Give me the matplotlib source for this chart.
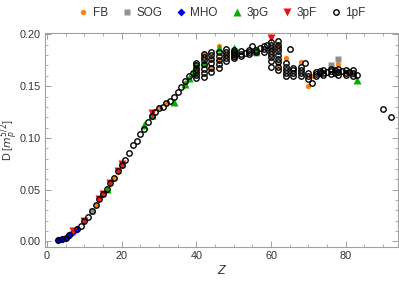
import matplotlib
matplotlib.use("Agg")
import matplotlib.pyplot as plt
from matplotlib.ticker import MultipleLocator

# ---------------- data ----------------
fb_z = [13, 18, 28, 30, 32, 37, 40, 42, 42, 44, 44, 46, 46, 48, 50, 60, 62, 62, 64, 68, 70, 71, 78, 80, 82]
fb_d = [0.035, 0.061, 0.123, 0.130, 0.134, 0.153, 0.165, 0.181, 0.170, 0.176, 0.168, 0.189, 0.175, 0.180, 0.181,
        0.186, 0.190, 0.171, 0.177, 0.173, 0.150, 0.160, 0.171, 0.164, 0.163]

sog_z = [12, 20, 28, 40, 50, 56, 76, 78, 82]
sog_d = [0.029, 0.074, 0.121, 0.166, 0.178, 0.182, 0.170, 0.176, 0.162]

mho_z = [3, 4, 5, 6, 7, 8]
mho_d = [0.0010, 0.0019, 0.0036, 0.0065, 0.0095, 0.0120]

g3_z = [16, 26, 28, 34, 37, 38, 39, 40, 42, 46, 50, 56, 83]
g3_d = [0.051, 0.112, 0.122, 0.135, 0.152, 0.158, 0.163, 0.170, 0.172, 0.187, 0.187, 0.184, 0.156]

f3_z = [7, 10, 14, 15, 17, 19, 20, 28, 60]
f3_d = [0.0097, 0.0197, 0.041, 0.046, 0.056, 0.068, 0.075, 0.124, 0.197]

f1_z = [3, 4, 5, 6, 8, 9, 10, 11, 12, 13, 14, 15, 16, 17, 18, 19, 20, 21, 22,
        23, 24, 25, 26, 27, 28, 29, 30, 31, 32, 33, 34, 35, 36, 37, 38, 39,
        40, 40, 40, 40, 40, 40,
        42, 42, 42, 42, 42, 42, 42,
        44, 44, 44, 44, 44, 44,
        46, 46, 46, 46, 46,
        48, 48, 48, 48, 48,
        50, 50, 50, 50, 50,
        52, 52, 52, 53, 54, 54, 54, 55, 56, 56, 57, 58, 58, 58, 59,
        60, 60, 60, 60, 60, 60, 60, 60,
        62, 62, 62, 62, 62, 62, 62, 62, 62,
        64, 64, 64, 64, 64, 65,
        66, 66, 66, 66, 68, 68, 68, 68, 69,
        70, 70, 70, 71, 72, 72, 72, 73, 73, 74, 74, 74, 75,
        76, 76, 76, 77, 77, 78, 78, 78, 79, 80, 80, 80, 81, 82, 82, 82, 83,
        90, 92]
f1_d = [0.0010, 0.0019, 0.0036, 0.0065, 0.0120, 0.0150, 0.0197, 0.024, 0.029, 0.035, 0.041, 0.046, 0.051, 0.056,
        0.061, 0.068, 0.074, 0.079, 0.085,
        0.093, 0.097, 0.104, 0.109, 0.115, 0.121, 0.125, 0.129, 0.130, 0.134, 0.136, 0.140, 0.144, 0.149, 0.155,
        0.160, 0.163,
        0.158, 0.161, 0.164, 0.167, 0.170, 0.172,
        0.159, 0.163, 0.167, 0.171, 0.175, 0.178, 0.181,
        0.164, 0.168, 0.172, 0.176, 0.180, 0.183,
        0.168, 0.171, 0.175, 0.179, 0.183,
        0.174, 0.177, 0.180, 0.183, 0.186,
        0.177, 0.179, 0.181, 0.183, 0.185,
        0.179, 0.181, 0.184, 0.182, 0.181, 0.183, 0.185, 0.189, 0.183, 0.185, 0.187, 0.183, 0.186, 0.189, 0.190,
        0.169, 0.174, 0.178, 0.181, 0.184, 0.187, 0.190, 0.193,
        0.166, 0.169, 0.173, 0.176, 0.180, 0.184, 0.187, 0.190, 0.194,
        0.160, 0.163, 0.166, 0.169, 0.172, 0.186,
        0.160, 0.163, 0.166, 0.168, 0.160, 0.163, 0.166, 0.169, 0.172,
        0.157, 0.160, 0.163, 0.153, 0.160, 0.162, 0.164, 0.163, 0.165, 0.161, 0.163, 0.166, 0.164,
        0.162, 0.165, 0.167, 0.163, 0.166, 0.161, 0.164, 0.167, 0.165, 0.161, 0.163, 0.166, 0.164, 0.160, 0.163,
        0.166, 0.161,
        0.128, 0.120]

labels = ["FB", "SOG", "MHO", "3pG", "3pF", "1pF"]

# ---------------- figure ----------------
plt.rcParams['font.family'] = ['Liberation Sans', 'DejaVu Sans']
fig = plt.figure(figsize=(3.99, 2.83), dpi=100)
ax = fig.add_axes([0.113, 0.127, 0.8845, 0.755])

h1 = ax.plot(fb_z, fb_d, 'o', color='#ff7f0e', ms=3.8, mec='none', label=labels[0], zorder=3)
h2 = ax.plot(sog_z, sog_d, 's', color='#909090', ms=4.4, mec='none', label=labels[1], zorder=2)
h3 = ax.plot(mho_z, mho_d, 'D', color='#0000e0', ms=3.8, mec='none', label=labels[2], zorder=3)
h4 = ax.plot(g3_z, g3_d, '^', color='#00b000', ms=5.2, mec='none', label=labels[3], zorder=3)
h5 = ax.plot(f3_z, f3_d, 'v', color='#ee1111', ms=5.2, mec='none', label=labels[4], zorder=3)
h6 = ax.plot(f1_z, f1_d, 'o', mfc='none', mec='black', mew=1.0, ms=3.9, label=labels[5], zorder=4)

ax.set_xlim(-0.5, 94)
ax.set_ylim(-0.0055, 0.201)

ax.xaxis.set_major_locator(MultipleLocator(20))
ax.xaxis.set_minor_locator(MultipleLocator(5))
ax.yaxis.set_major_locator(MultipleLocator(0.05))
ax.yaxis.set_minor_locator(MultipleLocator(0.01))
ax.yaxis.set_major_formatter(plt.FuncFormatter(lambda v, p: f"{v:.2f}"))

frame_col = '#a0a0a0'
for s in ax.spines.values():
    s.set_color(frame_col)
    s.set_linewidth(0.8)
ax.tick_params(which='both', direction='in', top=True, right=True, color=frame_col,
               labelsize=7.8, labelcolor='#333333', pad=3)
ax.tick_params(which='major', length=4, width=0.7)
ax.tick_params(which='minor', length=2, width=0.6)

ax.set_xlabel('Z', fontsize=9, style='italic', color='#333333', labelpad=3)
ax.set_ylabel(r'D [$m_p^{5/2}$]', fontsize=7.8, color='#333333', va='center')
ax.yaxis.set_label_coords(-0.099, 0.5)

leg = fig.legend(handles=[h1[0], h2[0], h3[0], h4[0], h5[0], h6[0]], labels=labels,
                 loc='upper center', bbox_to_anchor=(0.555, 1.0), ncol=6, frameon=False,
                 fontsize=8.5, handletextpad=0.3, columnspacing=1.1, handlelength=1.0,
                 borderaxespad=0.2)
for t in leg.get_texts():
    t.set_color('#333333')

fig.savefig('out.png', dpi=100)
